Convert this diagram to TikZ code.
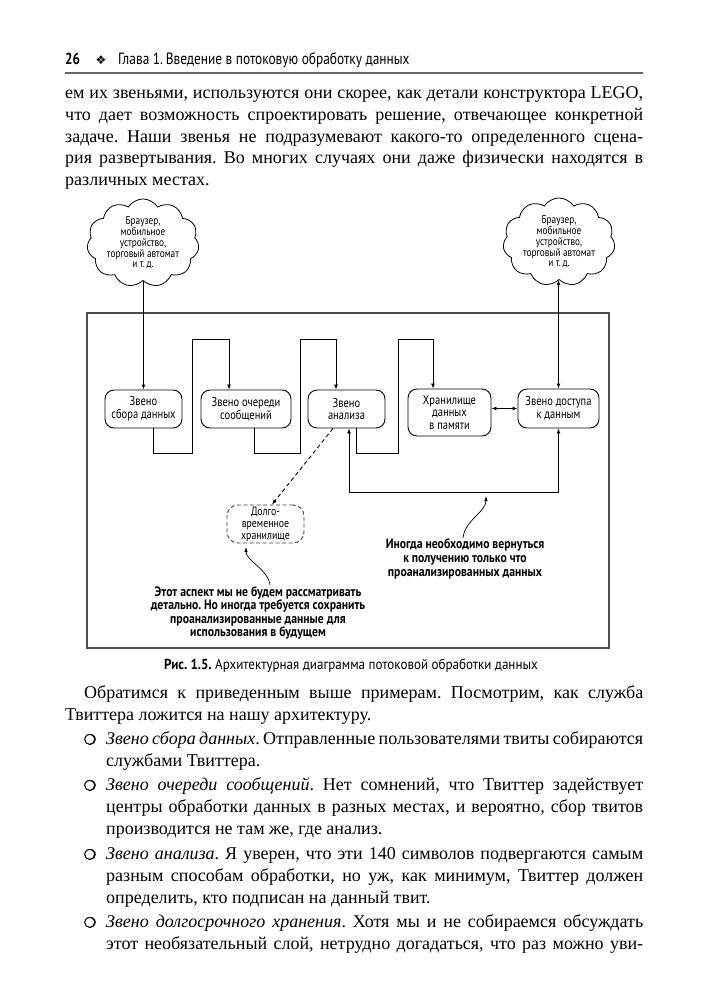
\documentclass[tikz,border=0pt]{standalone}
\usepackage{fontspec}
\setmainfont{Liberation Serif}
\newfontfamily\dsans[FakeStretch=0.82]{PT Sans}
\newfontfamily\nsans[FakeStretch=0.86]{PT Sans}
\newfontfamily\csans[FakeStretch=0.9]{PT Sans}
\newfontfamily\symf{DejaVu Sans}
\newfontfamily\symb[FakeBold=2.5]{DejaVu Sans}
\usetikzlibrary{shapes.symbols,arrows.meta,calc}
\frenchspacing
\tikzset{
  line/.style={line width=0.9pt, black},
  arr/.style={line, -{Latex[length=5pt,width=4pt]}},
  darr/.style={line, {Latex[length=5pt,width=4pt]}-{Latex[length=5pt,width=4pt]}},
  ann/.style={line width=0.7pt, black, -{Latex[length=5pt,width=3.5pt]}},
  box/.style={draw, line width=0.9pt, rounded corners=9pt, align=center, inner sep=0pt, font=\dsans\fontsize{12.8}{12.8}\selectfont},
  cloudn/.style={cloud, draw, line width=0.8pt, cloud puffs=11, cloud puff arc=115, aspect=1.35, minimum width=112pt, minimum height=82pt, inner sep=0pt, align=center, font=\dsans\fontsize{11.3}{10.8}\selectfont},
  bl/.style={anchor=base west, inner sep=0pt, font=\fontsize{18}{22}\selectfont},
  bul/.style={anchor=base, inner sep=0pt, font=\symb\fontsize{14}{14}\selectfont},
  note/.style={align=center, inner sep=0pt, font=\nsans\bfseries\fontsize{13.6}{13.6}\selectfont},
}
\newcommand{\jl}[1]{\makebox[578pt][s]{#1}}
\newcommand{\jb}[1]{\makebox[537pt][s]{#1}}
\begin{document}
\begin{tikzpicture}[x=1pt,y=-1pt]
\useasboundingbox[fill=white] (0,0) rectangle (702,1000);
% header
\node[anchor=base west, inner sep=0pt] (hn) at (65,65) {\dsans\bfseries\fontsize{16}{16}\selectfont 26};
\node[anchor=base, inner sep=0pt] (hs) at (101,65) {\symf\fontsize{12}{12}\selectfont ❖};
\node[anchor=base west, inner sep=0pt] (ht) at (118,65) {\dsans\fontsize{16.3}{16}\selectfont Глава 1.\,Введение в потоковую обработку данных};
\draw[line width=1.5pt, black!60] (65,73) -- (643,73);
% paragraph 1
\node[bl] (p1a) at (65,98.5) {\jl{ем их звеньями, используются они скорее, как детали конструктора LEGO,}};
\node[bl] (p1b) at (65,120.3) {\jl{что дает возможность спроектировать решение, отвечающее конкретной}};
\node[bl] (p1c) at (65,142.1) {\jl{задаче. Наши звенья не подразумевают какого-то определенного сцена-}};
\node[bl] (p1d) at (65,163.9) {\jl{рия развертывания. Во многих случаях они даже физически находятся в}};
\node[bl] (p1e) at (65,185.7) {различных местах.};
% diagram
\draw[line width=1.1pt, black!70] (87,313) rectangle (609,648);
\node[cloudn] (lc) at (143,243) {Браузер,\\мобильное\\устройство,\\торговый автомат\\и т.\,д.};
\node[cloudn] (rc) at (559,242) {Браузер,\\мобильное\\устройство,\\торговый автомат\\и т.\,д.};
\node[box, minimum width=77pt, minimum height=38pt] (b1) at (143.5,409) {Звено\\сбора данных};
\node[box, minimum width=90pt, minimum height=38pt] (b2) at (246,409) {Звено очереди\\сообщений};
\node[box, minimum width=77pt, minimum height=38pt] (b3) at (346.5,409) {Звено\\анализа};
\node[box, minimum width=83pt, minimum height=47pt] (b4) at (449.5,412.5) {Хранилище\\данных\\в памяти};
\node[box, minimum width=81pt, minimum height=39pt] (b5) at (558.5,408.5) {Звено доступа\\к данным};
\node[box, dashed, dash pattern=on 4pt off 2.5pt, draw=black!75, rounded corners=11pt, minimum width=77pt, minimum height=38pt, font=\dsans\fontsize{12}{12}\selectfont] (lt) at (265.5,524) {Долго-\\временное\\хранилище};
\draw[arr] (lc.south -| b1.north) -- (b1.north);
\draw[arr] ([xshift=9.5pt]b1.south) |- (192,453) |- (229,339) -- ([xshift=-17pt]b2.north);
\draw[arr] ([xshift=8pt]b2.south) |- (300,453) |- (336,339) -- ([xshift=-10.5pt]b3.north);
\draw[arr] ([xshift=9.5pt]b3.south) |- (398,453) |- (433,339) -- ([xshift=-16.5pt]b4.north);
\draw[darr] (b4.east |- b5.west) -- (b5.west);
\draw[darr] (b5.north) -- (rc.south -| b5.north);
\draw[darr] ([xshift=2.5pt]b3.south) -- ++(0,64) -| (b5.south);
\draw[arr, dashed, dash pattern=on 4pt off 3pt] ([xshift=-13.5pt]b3.south) -- ([xshift=6.5pt]lt.north);
\node[note] (n1) at (258,613) {Этот аспект мы не будем рассматривать\\детально. Но иногда требуется сохранить\\проанализированные данные для\\использования в будущем};
\node[note] (n2) at (465,559) {Иногда необходимо вернуться\\к получению только что\\проанализированных данных};
\coordinate (t1) at (246,547);
\coordinate (t2) at (486,496);
\draw[ann] ([xshift=12pt,yshift=1pt]n1.north) .. controls +(-2,-16) and +(0,14) .. (t1);
\draw[ann] ([xshift=-2pt,yshift=1pt]n2.north) .. controls +(2,-18) and +(0,16) .. (t2);
% caption
\node[anchor=base, inner sep=0pt] (cap) at (351,669) {\csans\fontsize{14.5}{16}\selectfont\textbf{Рис. 1.5.} Архитектурная диаграмма потоковой обработки данных};
% paragraph 2
\node[bl] (p2a) at (84,698.5) {\makebox[559pt][s]{Обратимся к приведенным выше примерам. Посмотрим, как служба}};
\node[bl] (p2b) at (65,720.5) {Твиттера ложится на нашу архитектуру.};
% bullets
\node[bul] (u1) at (90,744.5) {❍};
\node[bl] (q1a) at (106,744.5) {\jb{\textit{Звено сбора данных}. Отправленные пользователями твиты собираются}};
\node[bl] (q1b) at (106,766.5) {службами Твиттера.};
\node[bul] (u2) at (90,790.5) {❍};
\node[bl] (q2a) at (106,790.5) {\jb{\textit{Звено очереди сообщений}. Нет сомнений, что Твиттер задействует}};
\node[bl] (q2b) at (106,812.5) {\jb{центры обработки данных в разных местах, и вероятно, сбор твитов}};
\node[bl] (q2c) at (106,834.5) {производится не там же, где анализ.};
\node[bul] (u3) at (90,859.5) {❍};
\node[bl] (q3a) at (106,859.5) {\jb{\textit{Звено анализа}. Я уверен, что эти 140 символов подвергаются самым}};
\node[bl] (q3b) at (106,881.5) {\jb{разным способам обработки, но уж, как минимум, Твиттер должен}};
\node[bl] (q3c) at (106,903.5) {определить, кто подписан на данный твит.};
\node[bul] (u4) at (90,927.5) {❍};
\node[bl] (q4a) at (106,927.5) {\jb{\textit{Звено долгосрочного хранения}. Хотя мы и не собираемся обсуждать}};
\node[bl] (q4b) at (106,949.5) {\jb{этот необязательный слой, нетрудно догадаться, что раз можно уви-}};
\end{tikzpicture}
\end{document}
